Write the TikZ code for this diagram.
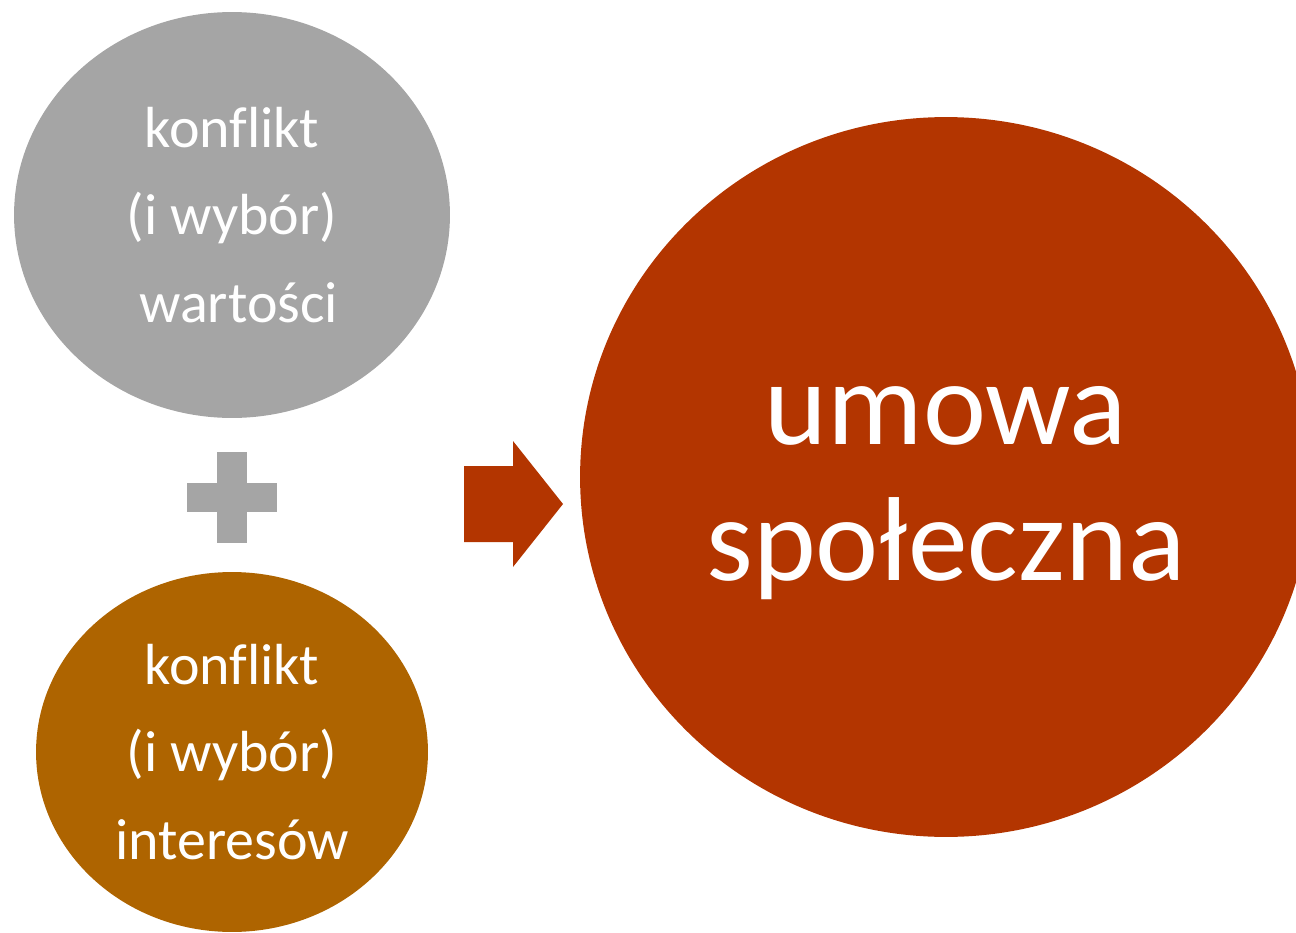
\documentclass[tikz,border=0pt]{standalone}
\usepackage{fontspec}
\setmainfont{Carlito}[Ligatures={NoCommon}]
\usetikzlibrary{shapes.geometric}
\definecolor{greyfill}{HTML}{A5A5A5}
\definecolor{brownfill}{HTML}{AE6400}
\definecolor{rustfill}{HTML}{B33500}
\begin{document}
\begin{tikzpicture}[x=0.02cm, y=-0.02cm,
    bubble/.style={ellipse, text=white, align=center, inner sep=0pt},
    smalltext/.style={font=\fontsize{33}{50}\selectfont}]
    \useasboundingbox (0,0) rectangle (1296,933);
    % Nodes
    \node[bubble, smalltext, fill=greyfill, minimum width=8.72cm, minimum height=8.12cm] (values) at (232,215) {konflikt\\(i wybór)\\\hspace*{0.23em}wartości};
    \node[bubble, smalltext, fill=brownfill, minimum width=7.84cm, minimum height=7.2cm] (interests) at (232,752) {konflikt\\(i wybór)\\interesów};
    \node[bubble, fill=rustfill, minimum width=14.64cm, minimum height=14.4cm,
        label={[text=white, align=center, yshift=-0.32cm, font=\fontsize{68}{77}\selectfont]center:umowa\\społeczna}] (contract) at (946,477) {};
    % Plus
    \fill[greyfill] (187,483) rectangle (277,512);
    \fill[greyfill] (217,452) rectangle (247,543);
    % Arrow
    \fill[rustfill] (464,466) -- (513,466) -- (513,441) -- (563,504) -- (513,567) -- (513,542) -- (464,542) -- cycle;
\end{tikzpicture}
\end{document}
